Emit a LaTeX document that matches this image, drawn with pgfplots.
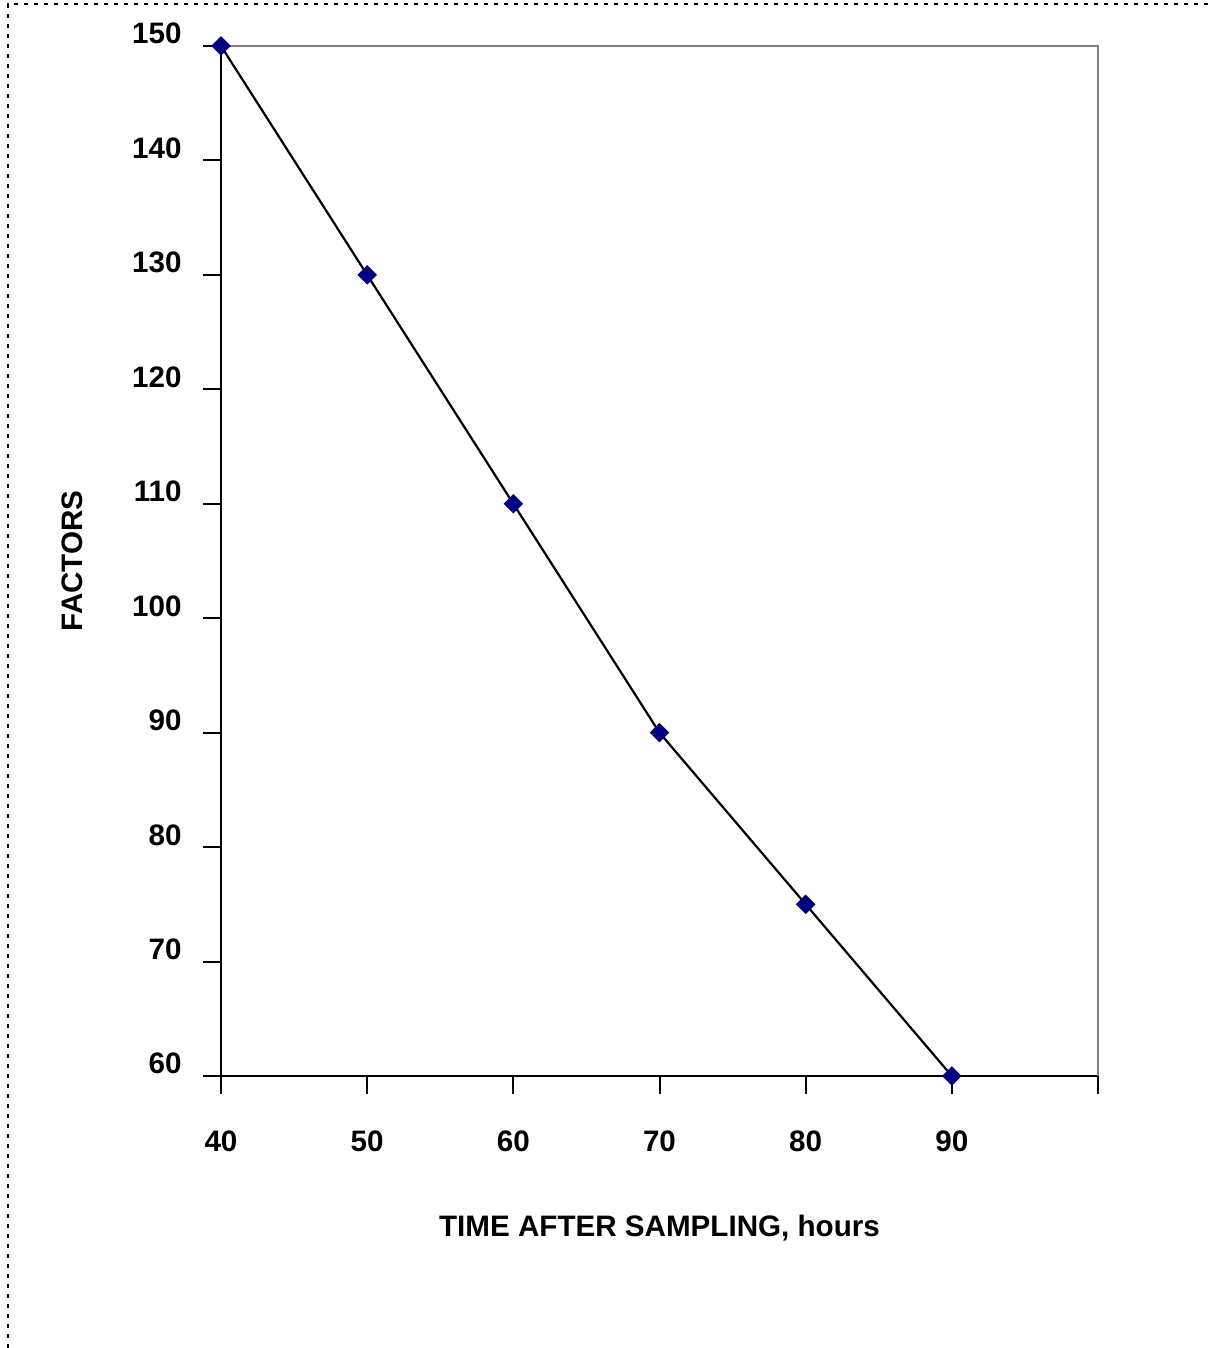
\documentclass[border=0pt]{standalone}
\usepackage{fontspec}
\setmainfont{Liberation Sans}
\usepackage{pgfplots}
\pgfplotsset{compat=1.18}

\definecolor{marknavy}{RGB}{0,0,128}
\definecolor{framegray}{RGB}{128,128,128}

\begin{document}
\begin{tikzpicture}
  % page = 1209 x 1348 px at 0.5pt per px
  \path[use as bounding box] (0,0) rectangle (604.5pt,674pt);
  % dotted chart-area border (top and left only)
  \draw[line width=1.4pt, dash pattern=on 2.2pt off 2.8pt]
    (4pt,0) -- (4pt,672pt) -- (604.5pt,672pt);

  \begin{axis}[
      at={(110.5pt,136pt)}, anchor=south west,
      scale only axis,
      width=438.5pt, height=515pt,
      xmin=40, xmax=100, ymin=60, ymax=150,
      xtick={40,50,...,100},
      xticklabels={40,50,60,70,80,90,{}},
      ytick={60,70,...,150},
      axis lines*=left,
      axis line style={line width=1pt, black},
      tick align=outside,
      major tick length=9pt,
      tick style={line width=1pt, black},
      clip=false,
      font=\fontsize{14.8}{18}\selectfont\bfseries,
      /pgf/number format/assume math mode=true,
      yticklabel style={anchor=base east, inner sep=0pt, xshift=-10.5pt, yshift=1pt},
      xticklabel style={anchor=north, inner sep=0pt, yshift=-18pt},
      xlabel={TIME AFTER SAMPLING, hours},
      ylabel={FACTORS},
      xlabel style={at={([yshift=-80.5pt]rel axis cs:0.5,0)}, anchor=base, inner sep=0pt},
      ylabel style={at={([xshift=-69pt]rel axis cs:0,0.5)}, anchor=base, inner sep=0pt},
    ]
    % grey top and right edges of the plot area
    \draw[framegray, line width=1pt] (rel axis cs:0,1) -- (rel axis cs:1,1) -- (rel axis cs:1,0);

    \addplot[black, line width=1.1pt, mark=square*,
             mark options={marknavy, draw=marknavy, rotate=45, mark size=2.9pt}]
      coordinates {
        (40,150) (50,130) (60,110) (70,90) (80,75) (90,60)
      };
  \end{axis}
\end{tikzpicture}
\end{document}
